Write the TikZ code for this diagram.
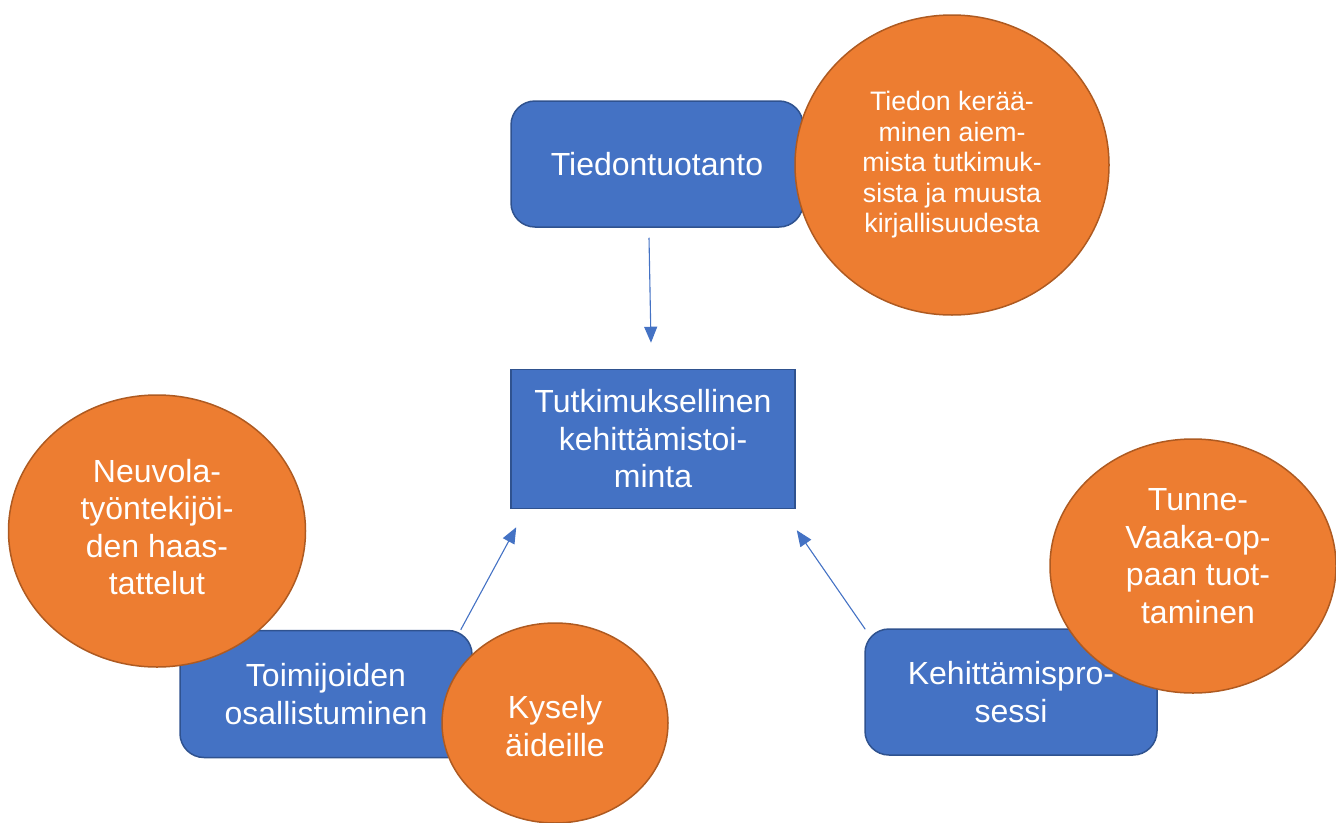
\documentclass[tikz,border=0pt]{standalone}
\usepackage{fontspec}
\setmainfont{Liberation Sans}
\usetikzlibrary{shapes.geometric,arrows.meta,calc}
\definecolor{boxblue}{HTML}{4472C4}
\definecolor{boxedge}{HTML}{2F528F}
\definecolor{circfill}{HTML}{ED7D31}
\definecolor{circedge}{HTML}{AE5A21}
\tikzset{
  rbox/.style={draw=boxedge, fill=boxblue, line width=1.5pt, rounded corners=24pt, text=white, align=center, inner sep=0pt, font=\fontsize{32}{37.5}\selectfont},
  sbox/.style={draw=boxedge, fill=boxblue, line width=1.5pt, text=white, align=center, inner sep=0pt, font=\fontsize{32}{37.5}\selectfont},
  oval/.style={ellipse, draw=circedge, fill=circfill, line width=1.5pt, text=white, align=center, inner sep=0pt, font=\fontsize{32}{37.5}\selectfont},
  ovaltext/.style={text=white, align=center, inner sep=0pt, font=\fontsize{32}{37.5}\selectfont},
  conn/.style={draw=boxblue, line width=1.1pt, -{Triangle[length=16pt,width=13pt]}}
}
\begin{document}
\begin{tikzpicture}[x=1pt,y=-1pt]
\useasboundingbox (0,0) rectangle (1336,822);
% top
\node[rbox, minimum width=292pt, minimum height=126pt] (tt) at (657,164) {Tiedontuotanto};
\node[oval, minimum width=314pt, minimum height=300pt, font=\fontsize{26.7}{30.5}\selectfont] (tc) at (952,165)
  {Tiedon kerää-\\minen aiem-\\mista tutkimuk-\\sista ja muusta\\kirjallisuudesta};
% centre
\node[sbox, minimum width=284pt, minimum height=139pt] (tk) at (653,439) {Tutkimuksellinen\\kehittämistoi-\\minta};
% left
\node[rbox, minimum width=292pt, minimum height=127pt] (to) at (326,694) {Toimijoiden\\osallistuminen};
\node[oval, minimum width=297pt, minimum height=272pt] (nc) at (157,531) {};
\node[ovaltext] (nct) at ($(nc)+(0,-4)$) {Neuvola-\\työntekijöi-\\den haas-\\tattelut};
\node[oval, minimum width=226pt, minimum height=200pt] (kc) at (555,723) {};
\node[ovaltext] (kct) at ($(kc)+(0,3)$) {Kysely\\äideille};
% right
\node[rbox, minimum width=292pt, minimum height=126pt] (kp) at (1011,692) {Kehittämispro-\\sessi};
\node[oval, minimum width=286pt, minimum height=254pt] (uc) at (1193,566) {};
\node[ovaltext] (uct) at ($(uc)+(5,-10)$) {Tunne-\\Vaaka-op-\\paan tuot-\\taminen};
% connectors
\draw[conn] ($(tt.south)+(-8,10)$) -- ($(tk.north)+(-2,-26)$);
\draw[conn] ($(to.north east)+(-12,0)$) -- ($(tk.south west)+(6,18)$);
\draw[conn] ($(kp.north west)+(1,1)$) -- ($(tk.south east)+(1,21)$);
\end{tikzpicture}
\end{document}
